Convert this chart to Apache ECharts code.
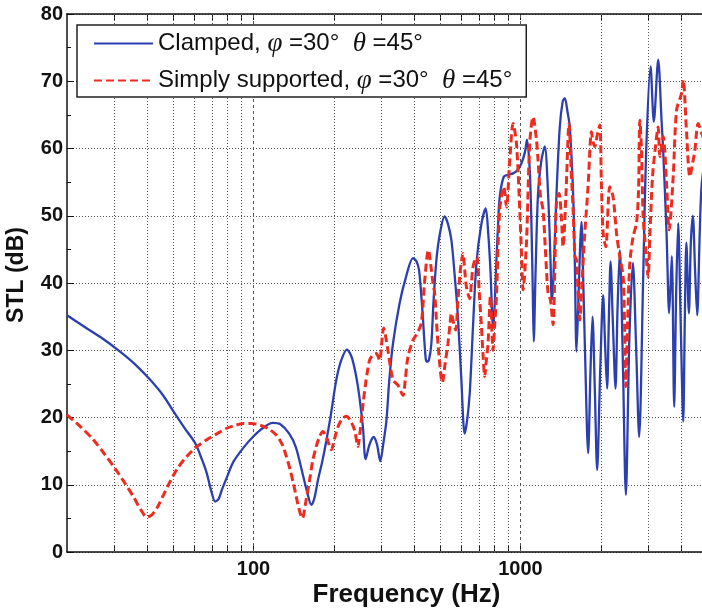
<!DOCTYPE html>
<html>
<head>
<meta charset="utf-8">
<script src="https://cdn.jsdelivr.net/npm/echarts/dist/echarts.min.js"></script>
<style>
html,body{margin:0;padding:0;background:#fff;}
#c{width:702px;height:608px;}
</style>
</head>
<body>
<div id="c"></div>
<script>
// ---- data (frequency in Hz, STL in dB) ----
const seriesNames = ['Clamped, φ =30°  θ =45°', 'Simply supported, φ =30°  θ =45°'];
const xTickLabels = [100, 1000];
const xGridMajor = [100, 1000];
const xGridMinor = [30, 40, 50, 60, 70, 80, 90, 200, 300, 400, 500, 600, 700, 800, 900, 2000, 3000, 4000];
const yTicks = [0, 10, 20, 30, 40, 50, 60, 70, 80];

const clamped = [
[20,35.2],[23,33.6],[26.6,32.0],[31.6,29.8],[36,27.9],[41,25.6],[46,23.2],[50.1,20.9],[55,18.5],[60.4,16.2],[64,13.8],[66.8,11.7],[69.5,9.0],[71.8,7.5],[74,7.9],[76,9.2],[80,11.4],[84,13.4],[92,15.6],[99.4,17.1],[108,18.4],[118,19.2],[126,19.0],[136,17.6],[144,15.6],[153,11.5],[159,8.8],[164.6,7.0],[169,8.0],[174.3,10.7],[181,13.5],[187.3,16.5],[195,20.5],[204.2,25.6],[213,28.5],[223.8,30.1],[234,28.8],[246.1,24.6],[256.9,18.6],[263,13.8],[272,16.0],[281.8,17.1],[290,16.0],[298.5,13.5],[306,16.0],[314.6,19.5],[322.6,25.6],[333,31.0],[352.6,37.0],[372,40.8],[395.8,43.7],[408,43.2],[417,41.9],[429,36.0],[441.5,28.8],[447,28.3],[454,28.5],[463.7,31.0],[472,37.0],[484.3,43.4],[500,47.5],[520,49.9],[535,48.8],[551,46.4],[566,41.5],[583,35.0],[600,26.0],[618,17.6],[631,19.5],[645.6,23.6],[664,33.5],[684,42.9],[712,48.5],[741,51.1],[757,47.5],[772,41.9],[789.5,33.5],[800,36.5],[812.8,43.4],[824,48.5],[836.3,52.8],[865.9,55.8],[900,56.1],[938.3,56.3],[975,56.8],[1008.8,57.8],[1040,59.5],[1058,61.3],[1083.6,56.8],[1100,48.4],[1112,39.0],[1121.7,31.3],[1140,42],[1164,53.3],[1199,58.3],[1233,60.3],[1269,53.3],[1296,43.4],[1310,37.5],[1325,39.5],[1365,53.3],[1404,63.2],[1440,67.0],[1466,67.5],[1500,65.5],[1531,63.2],[1575,53.3],[1598,43.4],[1622,29.8],[1650,38],[1675,46],[1693,49.1],[1715,42],[1745,30],[1793,14.7],[1830,27],[1862,35.0],[1900,24],[1938,12.2],[1990,27],[2041,38.2],[2075,31],[2112,24.3],[2145,35],[2176,43.2],[2220,34],[2271,24.3],[2310,36],[2357,44.9],[2420,28],[2483,8.5],[2560,32],[2638,43],[2710,31],[2785,17.1],[2880,40],[2960,59.8],[3072,72.2],[3161,64],[3281,73.2],[3380,64],[3425,59.8],[3527,47.4],[3608,35.5],[3690,44],[3767,21.6],[3830,38],[3899,48.9],[3990,33],[4072,19.4],[4130,35],[4185,46],[4276,35.5],[4350,46],[4426,50],[4510,42],[4594,35.2],[4700,48],[4784,55],[5000,60]
];

const simply = [
[20,20.4],[22.5,18.6],[25.1,16.7],[27.6,14.6],[30.3,12.4],[33,10.2],[35.5,8.2],[37.8,6.3],[39.8,5.2],[41.5,5.5],[43.4,6.5],[46,8.5],[48.7,10.5],[52,12.5],[56.2,14.2],[61,15.6],[66.8,16.7],[73,17.6],[79.4,18.4],[85,18.8],[91.7,19.1],[98,19.1],[105.3,18.9],[113,18.4],[121.6,17.4],[128,16.0],[132.7,14.2],[137,12.3],[141,10.2],[144.6,8.2],[148.5,6.2],[152.3,5.0],[157,7.5],[162.2,10.7],[166.5,13.5],[171.8,15.7],[177,17.2],[181.9,17.9],[188,17.0],[195.6,15.2],[201,16.8],[207.1,18.6],[214,19.7],[222.6,20.2],[231,19.5],[239.1,18.1],[246.1,15.7],[250,17.5],[253.4,19.6],[258,22.5],[263,25.1],[267,26.8],[272.2,28.5],[280,29.3],[288.4,29.5],[296.8,28.5],[302,31.0],[307.2,33.3],[312,32.2],[318.8,30.0],[333,25.6],[347.5,24.8],[362.9,23.3],[370,25.5],[378.8,29.0],[395.8,31.5],[410,32.5],[425,34.0],[437,40.0],[452,44.9],[462,42.5],[470,40.0],[477,38.5],[491,31.0],[510,25.2],[522,28.0],[535,31.0],[545,34.0],[551,35.5],[562,34.0],[572,33.0],[582,37.0],[592.2,40.9],[600,43.0],[609.3,44.4],[618,42.0],[627.5,39.4],[645.6,37.7],[655,40.0],[664.3,42.4],[677,43.6],[687.7,43.9],[700,39.0],[714.3,33.5],[725,29.0],[734.9,26.1],[745,28.5],[756.2,31.0],[771.9,38.0],[789.5,30.0],[800,33.5],[812.8,38.0],[836.3,50.9],[865.9,54.3],[886.3,51.3],[912,58.3],[938.3,63.7],[966,60.8],[994,50.9],[1010,44.0],[1022.6,39.0],[1053,45.9],[1083.6,60.8],[1115,64.7],[1148,61.3],[1164,58.3],[1189,52.8],[1215,50.9],[1240,45.0],[1269,38.5],[1295,37.5],[1325,33.8],[1345,42.0],[1365,52.3],[1395,53.3],[1425,49.4],[1444,45.4],[1480,53.0],[1521,63.7],[1548,57.0],[1575,50.9],[1600,44.0],[1622,43.4],[1645,38.5],[1669,34.5],[1700,40.0],[1742,47.4],[1790,54.0],[1846,62.5],[1870,61.0],[1899,60.3],[1940,62.0],[1983,63.5],[2010,55.0],[2041,47.4],[2088,45.4],[2161,54.3],[2224,52.8],[2291,47.4],[2357,43.9],[2426,40.9],[2455,34.0],[2483,24.6],[2520,34.0],[2569,42.9],[2644,46.9],[2722,48.9],[2770,53.8],[2801,64.2],[2842,59.8],[2882,49.9],[2949,44.9],[3008,40.9],[3053,46.9],[3125,55.8],[3200,60.0],[3281,63.2],[3330,58.8],[3425,61.8],[3527,54.8],[3608,47.9],[3735,55.8],[3846,65.7],[4015,68.2],[4072,70.2],[4193,62.3],[4314,55.8],[4439,58.3],[4505,59.8],[4634,63.7],[4772,62.3],[5000,60.0]
];

// ---- chart ----
const BLUE = '#2c3fae';
const RED = '#ee2b1f';
const AXIS = '#111';
const FONT = '"Liberation Sans", Arial, sans-serif';

const gridLineData = [
  ...xGridMinor.map(v => ({ xAxis: v, lineStyle: { color: '#555', width: 1, type: [1, 2] } })),
  ...xGridMajor.map(v => ({ xAxis: v, lineStyle: { color: '#555', width: 1, type: [3, 3] } }))
];

const chart = echarts.init(document.getElementById('c'), null, { renderer: 'canvas' });
chart.setOption({
  animation: false,
  backgroundColor: '#fff',
  textStyle: { fontFamily: FONT },
  grid: { left: 67, top: 14, width: 640, height: 538, containLabel: false, outerBoundsMode: 'none' },
  legend: {
    data: seriesNames,
    orient: 'vertical',
    left: 77,
    top: 25,
    padding: [5, 14, 3, 16],
    itemGap: 10,
    itemWidth: 59,
    itemHeight: 14,
    itemStyle: { opacity: 0 },
    backgroundColor: '#fff',
    borderColor: '#222',
    borderWidth: 1.5,
    borderRadius: 0,
    textStyle: {
      fontFamily: FONT, fontSize: 24, color: '#111', lineHeight: 27,
      rich: {
        i: { fontFamily: '"Liberation Serif", "DejaVu Serif", serif', fontStyle: 'italic', fontSize: 27, color: '#111', lineHeight: 27 }
      }
    },
    formatter: name => name.replace('φ', '{i|φ}').replace('θ', '{i|θ}')
  },
  xAxis: [{
    type: 'log',
    logBase: 10,
    min: 20,
    max: 5000,
    name: 'Frequency (Hz)',
    nameLocation: 'middle',
    nameGap: 30,
    nameMoveOverlap: false,
    nameTextStyle: { fontFamily: FONT, fontSize: 26, fontWeight: 'bold', color: AXIS, padding: [0, 0, 0, 39] },
    axisLine: { show: true, lineStyle: { color: AXIS, width: 1.5 } },
    axisTick: { show: true, inside: true, length: 6, customValues: xGridMinor.concat(xGridMajor), lineStyle: { color: AXIS } },
    minorTick: { show: false },
    splitLine: { show: false },
    axisLabel: {
      customValues: xTickLabels,
      fontFamily: FONT, fontSize: 20, fontWeight: 'bold', color: AXIS, margin: 7,
      formatter: v => (xTickLabels.indexOf(Math.round(v)) >= 0 ? String(Math.round(v)) : '')
    }
  }, {
    type: 'log',
    logBase: 10,
    min: 20,
    max: 5000,
    position: 'top',
    axisLine: { show: true, lineStyle: { color: AXIS, width: 1.5 } },
    axisTick: { show: true, inside: true, length: 6, customValues: xGridMinor.concat(xGridMajor), lineStyle: { color: AXIS } },
    axisLabel: { show: false },
    splitLine: { show: false }
  }],
  yAxis: {
    type: 'value',
    min: yTicks[0],
    max: yTicks[yTicks.length - 1],
    interval: 10,
    name: 'STL (dB)',
    nameLocation: 'middle',
    nameGap: 39,
    nameMoveOverlap: false,
    nameTextStyle: { fontFamily: FONT, fontSize: 23, fontWeight: 'bold', color: AXIS, padding: [0, 0, 0, 16] },
    axisLine: { show: true, lineStyle: { color: AXIS, width: 1.5 } },
    axisTick: { show: true, inside: true, length: 7, lineStyle: { color: AXIS } },
    minorTick: { show: true, splitNumber: 2, length: 4, lineStyle: { color: AXIS } },
    splitLine: { show: true, lineStyle: { color: '#555', width: 1, type: [1, 2] } },
    axisLabel: { fontFamily: FONT, fontSize: 20, fontWeight: 'bold', color: AXIS, margin: 4 }
  },
  series: [{
    name: seriesNames[0],
    type: 'line',
    data: clamped,
    symbol: 'none',
    smooth: 0.3,
    z: 3,
    lineStyle: { color: BLUE, width: 2.3 },
    itemStyle: { color: BLUE },
    markLine: {
      silent: true,
      z: 1,
      symbol: ['none', 'none'],
      label: { show: false },
      emphasis: { disabled: true },
      data: gridLineData
    }
  }, {
    name: seriesNames[1],
    type: 'line',
    data: simply,
    symbol: 'none',
    smooth: 0.3,
    z: 4,
    lineStyle: { color: RED, width: 3, type: [8, 4] },
    itemStyle: { color: RED }
  }]
});
</script>
</body>
</html>
